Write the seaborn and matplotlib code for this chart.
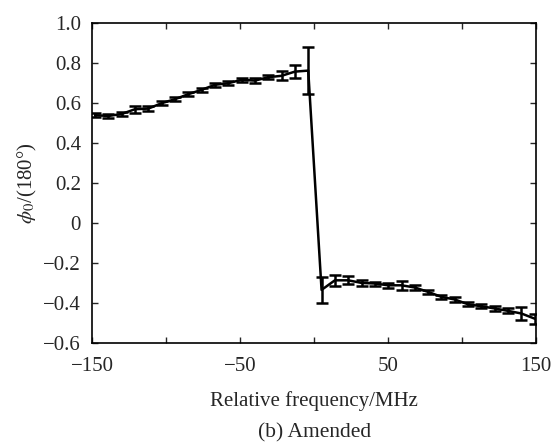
import numpy as np
import pandas as pd
import seaborn as sns
import matplotlib
matplotlib.use("Agg")
import matplotlib.pyplot as plt
from matplotlib.ticker import FuncFormatter, MultipleLocator

sns.set_theme(style="ticks")
plt.rcParams['font.family'] = ['Liberation Serif', 'DejaVu Serif']
plt.rcParams['mathtext.fontset'] = 'stix'
plt.rcParams['font.size'] = 15

# ---------- Data ----------
freq = [-148, -139, -130, -121, -112, -103, -94, -85, -76, -67, -58, -49, -40,
        -31, -22, -13, -4,
        5, 14, 23, 32, 41, 50, 59, 68, 77, 86, 95, 104, 113, 122, 131, 140, 149]
phase = [0.539, 0.535, 0.545, 0.569, 0.572, 0.599, 0.619, 0.644, 0.666, 0.691,
         0.699, 0.716, 0.712, 0.729, 0.736, 0.757, 0.762,
         -0.335, -0.287, -0.287, -0.300, -0.303, -0.312, -0.312, -0.323, -0.345,
         -0.370, -0.383, -0.407, -0.417, -0.428, -0.440, -0.453, -0.479]
err = [0.010, 0.010, 0.010, 0.017, 0.014, 0.010, 0.010, 0.010, 0.010, 0.010,
       0.010, 0.010, 0.012, 0.010, 0.022, 0.032, 0.117,
       0.067, 0.028, 0.020, 0.017, 0.010, 0.012, 0.022, 0.012, 0.010,
       0.012, 0.012, 0.010, 0.010, 0.012, 0.012, 0.032, 0.025]

df = pd.DataFrame({"freq": freq, "phase": phase, "err": err})

# ---------- Plot ----------
fig = plt.figure(figsize=(5.58, 4.43), dpi=100)
ax = fig.add_axes([0.165, 0.226, 0.796, 0.722])

sns.lineplot(data=df, x="freq", y="phase", ax=ax, color="black",
             linewidth=1.8, estimator=None, sort=False)
ax.errorbar(df["freq"], df["phase"], yerr=df["err"], fmt="none",
            ecolor="black", elinewidth=1.8, capsize=4, capthick=1.8)

ax.set_xlim(-150, 150)
ax.set_ylim(-0.6, 1.0)
ax.set_xticks([-150, -100, -50, 0, 50, 100, 150])
ax.set_xticklabels(["\u2212150", "", "\u221250", "", "50", "", "150"])
ax.yaxis.set_major_locator(MultipleLocator(0.2))


def yfmt(v, pos):
    if abs(v) < 1e-9:
        return "0"
    return f"{v:.1f}".replace("-", "\u2212")


ax.yaxis.set_major_formatter(FuncFormatter(yfmt))
ax.tick_params(direction="in", length=4, width=1, top=True, right=True,
               labelsize=15)
ax.tick_params(axis="x", pad=10)
ax.tick_params(axis="y", pad=8)
for sp in ax.spines.values():
    sp.set_linewidth(1.2)
    sp.set_color("black")

ax.set_xlabel("Relative frequency/MHz", fontsize=15, labelpad=11)
ax.set_ylabel(r"$\phi_0$/(180°)", fontsize=15, labelpad=3)

fig.text(0.563, 0.022, "(b) Amended", ha="center", va="center", fontsize=15.5)

fig.savefig("out.png", dpi=100)
